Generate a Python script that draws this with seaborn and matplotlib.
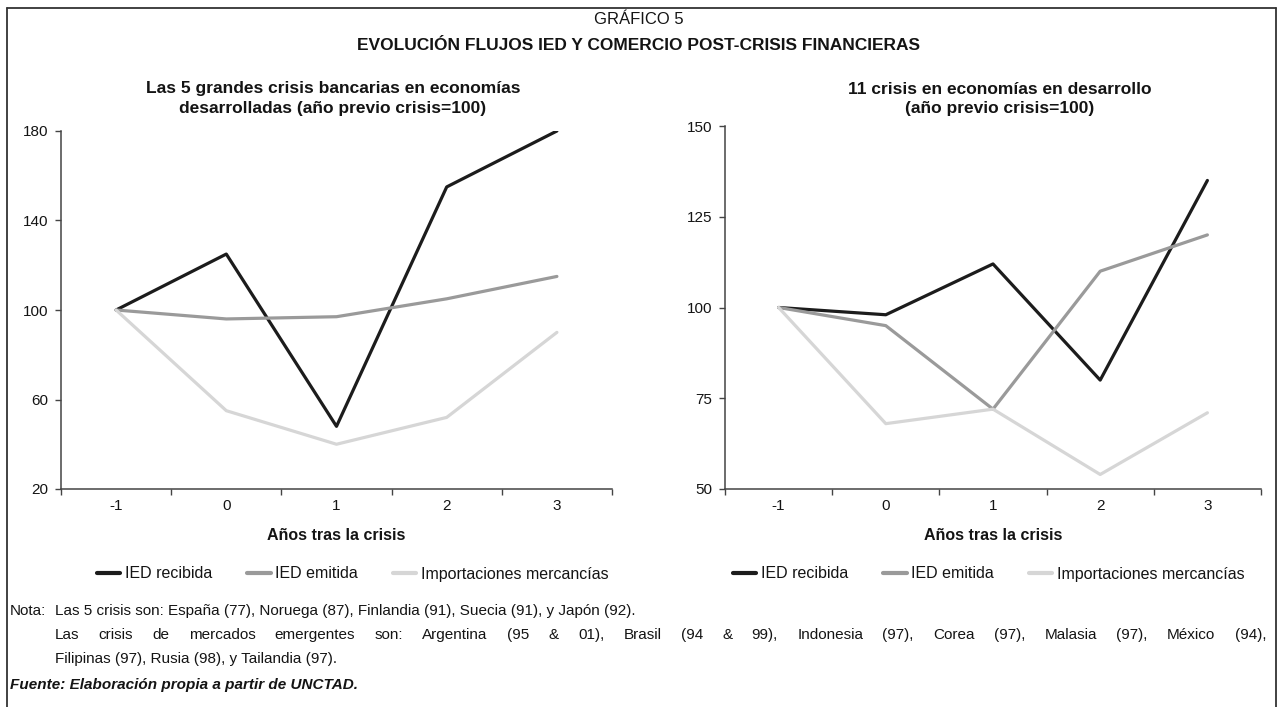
import matplotlib
matplotlib.use("Agg")
import matplotlib.pyplot as plt
from matplotlib.lines import Line2D
import numpy as np
import pandas as pd
import seaborn as sns

# ---- data -------------------------------------------------------------
years = ["-1", "0", "1", "2", "3"]
series_names = ["IED recibida", "IED emitida", "Importaciones mercancías"]

# Developed economies: the 5 big banking crises (year before crisis = 100)
dev_ied_recibida = [100, 125, 48, 155, 180]
dev_ied_emitida = [100, 96, 97, 105, 115]
dev_importaciones = [100, 55, 40, 52, 90]

# Developing economies: 11 crises (year before crisis = 100)
emg_ied_recibida = [100, 98, 112, 80, 135]
emg_ied_emitida = [100, 95, 72, 110, 120]
emg_importaciones = [100, 68, 72, 54, 71]

left_yticks = [20, 60, 100, 140, 180]
right_yticks = [50, 75, 100, 125, 150]

colors = ["#1c1c1c", "#9a9a9a", "#d6d6d6"]


def long_frame(a, b, c):
    rows = []
    for name, vals in zip(series_names, [a, b, c]):
        for i, v in enumerate(vals):
            rows.append({"pos": i, "serie": name, "valor": v})
    return pd.DataFrame(rows)


df_dev = long_frame(dev_ied_recibida, dev_ied_emitida, dev_importaciones)
df_emg = long_frame(emg_ied_recibida, emg_ied_emitida, emg_importaciones)

# ---- style ------------------------------------------------------------
sns.set_theme(style="white")
plt.rcParams["font.family"] = ["Liberation Sans", "DejaVu Sans"]
plt.rcParams["font.size"] = 10

W, H = 1277, 707
fig = plt.figure(figsize=(W / 100, H / 100), dpi=100)


def fx(px):
    return px / W


def fy(py):
    return 1 - py / H


ax_l = fig.add_axes([fx(61), fy(489), fx(612 - 61), (489 - 131) / H])
ax_r = fig.add_axes([fx(725), fy(489), fx(1261 - 725), (489 - 126) / H])

palette = dict(zip(series_names, colors))
TXT = "#141414"


def draw_panel(ax, df, yticks, legend_x):
    sns.lineplot(data=df, x="pos", y="valor", hue="serie", palette=palette,
                 hue_order=series_names, linewidth=2.3, ax=ax, legend=False,
                 estimator=None)
    ax.set_xlim(-0.5, len(years) - 0.5)
    ax.set_ylim(yticks[0], yticks[-1])
    ax.set_yticks(yticks)
    ax.set_yticklabels([str(t) for t in yticks], fontsize=11, color=TXT)
    # boundary ticks without labels, category labels on minor ticks
    ax.set_xticks(np.arange(-0.5, len(years), 1.0))
    ax.set_xticklabels([])
    ax.set_xticks(np.arange(len(years)), minor=True)
    ax.set_xticklabels(years, minor=True, fontsize=11, color=TXT)
    ax.tick_params(axis="x", which="major", direction="out", length=4,
                   width=1, color="#444444", bottom=True)
    ax.tick_params(axis="x", which="minor", length=0, pad=7)
    ax.tick_params(axis="y", direction="out", length=4, width=1,
                   color="#444444", left=True, pad=5)
    for s in ["top", "right"]:
        ax.spines[s].set_visible(False)
    for s in ["left", "bottom"]:
        ax.spines[s].set_color("#444444")
        ax.spines[s].set_linewidth(1.1)
    ax.set_xlabel("Años tras la crisis", fontsize=11.5, fontweight="bold",
                  labelpad=11, color=TXT)
    ax.set_ylabel("")
    handles = [Line2D([0], [0], color=c, linewidth=3) for c in colors]
    ax.legend(handles, series_names, loc="center left", ncol=3,
              bbox_to_anchor=(fx(legend_x), fy(574)),
              bbox_transform=fig.transFigure, frameon=False, fontsize=11.5,
              handlelength=1.45, handletextpad=0.3, columnspacing=2.2,
              borderpad=0, borderaxespad=0, labelcolor=TXT)


draw_panel(ax_l, df_dev, left_yticks, 97)
draw_panel(ax_r, df_emg, right_yticks, 733)

# ---- titles -------------------------------------------------------------
fig.text(0.5, fy(20), "GRÁFICO 5", ha="center", va="center", fontsize=12,
         color=TXT)
fig.text(0.5, fy(46), "EVOLUCIÓN FLUJOS IED Y COMERCIO POST-CRISIS FINANCIERAS",
         ha="center", va="center", fontsize=12.5, fontweight="bold",
         color=TXT)
fig.text(fx(333), fy(89), "Las 5 grandes crisis bancarias en economías",
         ha="center", va="center", fontsize=12.5, fontweight="bold",
         color=TXT)
fig.text(fx(333), fy(109), "desarrolladas (año previo crisis=100)",
         ha="center", va="center", fontsize=12.5, fontweight="bold",
         color=TXT)
fig.text(fx(1000), fy(89), "11 crisis en economías en desarrollo",
         ha="center", va="center", fontsize=12.5, fontweight="bold",
         color=TXT)
fig.text(fx(1000), fy(109), "(año previo crisis=100)",
         ha="center", va="center", fontsize=12.5, fontweight="bold",
         color=TXT)

# ---- notes and source ---------------------------------------------------
NOTE_FS = 11
fig.text(fx(10), fy(611), "Nota:", ha="left", va="center", fontsize=NOTE_FS,
         color=TXT)
fig.text(fx(55), fy(611),
         "Las 5 crisis son: España (77), Noruega (87), Finlandia (91), "
         "Suecia (91), y Japón (92).",
         ha="left", va="center", fontsize=NOTE_FS, color=TXT)

# justified line: words spread between the left and right margins
line2 = ("Las crisis de mercados emergentes son: Argentina (95 & 01), "
         "Brasil (94 & 99), Indonesia (97),  Corea (97), Malasia (97), "
         "México  (94),")
words = line2.split()
x0, x1 = 55, 1266
renderer = fig.canvas.get_renderer()
word_artists = [fig.text(0, fy(635), w, ha="left", va="center",
                         fontsize=NOTE_FS, color=TXT) for w in words]
widths = [a.get_window_extent(renderer).width for a in word_artists]
gap = (x1 - x0 - sum(widths)) / (len(words) - 1)
cur = x0
for a, w in zip(word_artists, widths):
    a.set_x(fx(cur))
    cur += w + gap

fig.text(fx(55), fy(659), "Filipinas (97), Rusia (98), y Tailandia (97).",
         ha="left", va="center", fontsize=NOTE_FS, color=TXT)
fig.text(fx(10), fy(685), "Fuente: Elaboración propia a partir de UNCTAD.",
         ha="left", va="center", fontsize=NOTE_FS, fontweight="bold",
         fontstyle="italic", color=TXT)

# ---- outer frame (top, left and right edges) ----------------------------
frame_kw = dict(color="#333333", linewidth=1.3, transform=fig.transFigure)
fig.add_artist(Line2D([fx(7), fx(1276)], [fy(8), fy(8)], **frame_kw))
fig.add_artist(Line2D([fx(7), fx(7)], [fy(8), 0], **frame_kw))
fig.add_artist(Line2D([fx(1276), fx(1276)], [fy(8), 0], **frame_kw))

fig.savefig("out.png", dpi=100, facecolor="white")
